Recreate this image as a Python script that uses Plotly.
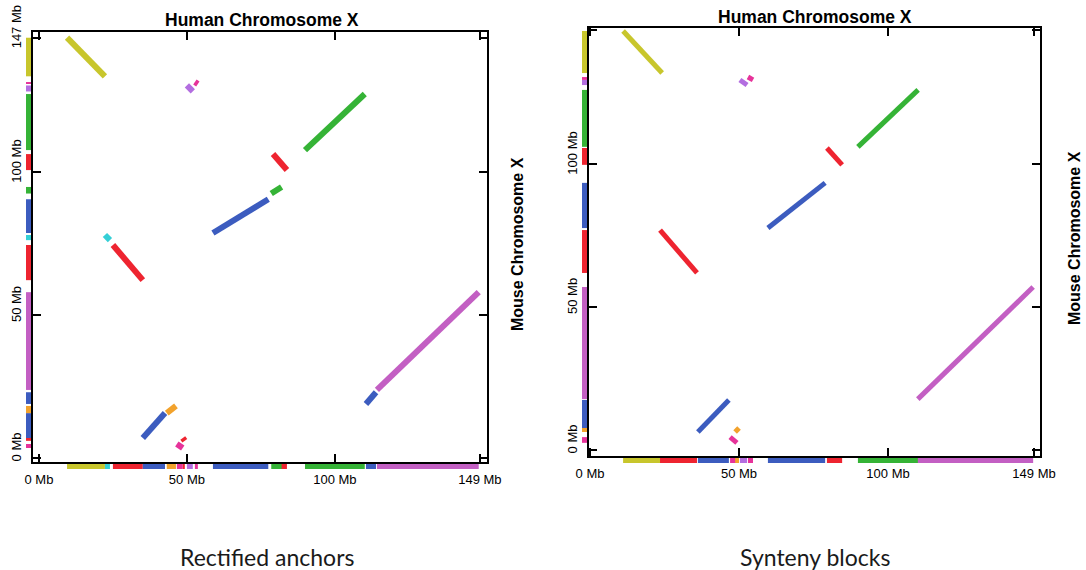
import plotly.graph_objects as go

# ---------------- data (Mb) ----------------
x_tick_vals = [0, 50, 100, 149]
x_tick_text = ["0 Mb", "50 Mb", "100 Mb", "149 Mb"]
y_tick_vals = [0, 50, 100, 147]
y_tick_text = ["0 Mb", "50 Mb", "100 Mb", "147 Mb"]

# Rectified anchors: human start/end, mouse start/end, segment group
anchor_h_start = [9.5, 50.0, 52.7, 89.9, 79.1, 58.8, 78.5, 22.3, 25.0, 110.5, 114.2, 35.1, 43.2, 46.6, 48.6]
anchor_h_end   = [22.3, 52.0, 53.7, 110.1, 83.8, 77.5, 82.0, 24.0, 35.1, 113.9, 148.6, 42.6, 46.3, 48.6, 49.3]
anchor_m_start = [147.0, 130.3, 131.5, 107.7, 106.3, 78.7, 92.5, 78.0, 74.5, 18.9, 23.8, 7.0, 15.7, 4.9, 7.0]
anchor_m_end   = [133.5, 128.2, 130.8, 127.3, 100.7, 90.5, 94.8, 76.2, 62.2, 23.0, 58.0, 15.7, 18.2, 3.5, 6.0]
anchor_group   = ["Y", "V", "P", "G", "R", "B", "G", "C", "R", "B", "M", "B", "O", "P", "R"]

# Synteny blocks
block_h_start = [11.1, 50.3, 53.0, 89.9, 79.5, 59.7, 23.5, 110.0, 36.2, 47.0, 48.7]
block_h_end   = [24.2, 52.7, 54.7, 110.1, 84.6, 78.9, 35.9, 148.7, 46.6, 49.3, 50.0]
block_m_start = [146.5, 129.4, 130.4, 106.0, 105.6, 77.6, 76.9, 17.8, 6.3, 4.5, 6.3]
block_m_end   = [131.8, 127.6, 129.4, 125.9, 99.7, 93.4, 61.9, 57.0, 17.5, 2.5, 7.7]
block_group   = ["Y", "V", "P", "G", "R", "B", "R", "M", "B", "P", "O"]

panel_titles = ["Human Chromosome X", "Human Chromosome X"]
side_titles = ["Mouse Chromosome X", "Mouse Chromosome X"]
captions = ["Rectified anchors", "Synteny blocks"]

# ---------------- styles ----------------
palette = {"Y": "#c8c62c", "V": "#b36ee0", "P": "#e6339a", "G": "#35b336",
           "R": "#ee2430", "B": "#3c5cbf", "C": "#34cfd6", "M": "#c35fc3",
           "O": "#f2a22c"}
W, H = 1086, 570
FONT = "Liberation Sans, Arial, sans-serif"


def px(v):
    return v / W


def py(v):
    return 1 - v / H


panels = [
    dict(hs=anchor_h_start, he=anchor_h_end, ms=anchor_m_start, me=anchor_m_end, g=anchor_group,
         frame=(33, 487, 32, 462), xr=[-2.0, 151.4], yr=[-1.4, 149.0],
         bstrip=(463, 470), lstrip=(25, 32), lw=6, title=(262, 20), side=(517, 244), cap=(267, 557)),
    dict(hs=block_h_start, he=block_h_end, ms=block_m_start, me=block_m_end, g=block_group,
         frame=(589, 1040, 28, 456), xr=[-0.34, 151.0], yr=[-2.1, 147.55],
         bstrip=(457, 464), lstrip=(581, 588), lw=5, title=(815, 17), side=(1075, 238), cap=(815, 557)),
]

fig = go.Figure()
layout = dict(width=W, height=H, margin=dict(l=0, r=0, t=0, b=0, pad=0, autoexpand=False),
              paper_bgcolor="white", plot_bgcolor="white", showlegend=False)
annotations = []

for i, p in enumerate(panels):
    n0 = 3 * i + 1
    main_x, main_y = n0, n0
    bx, by = n0 + 1, n0 + 1
    lx, ly = n0 + 2, n0 + 2

    def ax(n):
        return "x" if n == 1 else f"x{n}"

    def ay(n):
        return "y" if n == 1 else f"y{n}"

    def key(prefix, n):
        return prefix if n == 1 else f"{prefix}{n}"

    l, r, t, b = p["frame"]
    xdom = [px(l), px(r)]
    ydom = [py(b), py(t)]

    # main axes with frame and inside ticks
    layout[key("xaxis", main_x)] = dict(domain=xdom, range=p["xr"], anchor=ay(main_y), automargin=False,
                                        showgrid=False, zeroline=False, showline=True, mirror="allticks",
                                        linecolor="black", linewidth=2.2, ticks="inside", ticklen=8,
                                        tickwidth=1.5, tickcolor="black", tickvals=x_tick_vals,
                                        showticklabels=False)
    layout[key("yaxis", main_y)] = dict(domain=ydom, range=p["yr"], anchor=ax(main_x), automargin=False,
                                        showgrid=False, zeroline=False, showline=True, mirror="allticks",
                                        linecolor="black", linewidth=2.2, ticks="inside", ticklen=8,
                                        tickwidth=1.5, tickcolor="black", tickvals=y_tick_vals,
                                        showticklabels=False)
    # bottom strip (human positions)
    layout[key("xaxis", bx)] = dict(domain=xdom, matches=ax(main_x), anchor=ay(by), showgrid=False,
                                    automargin=False, zeroline=False, showline=False, ticks="",
                                    tickvals=x_tick_vals, ticktext=x_tick_text,
                                    tickfont=dict(family=FONT, size=13, color="black"))
    layout[key("yaxis", by)] = dict(domain=[py(p["bstrip"][1]), py(p["bstrip"][0])], range=[0, 1],
                                    anchor=ax(bx), visible=False, automargin=False)
    # left strip (mouse positions)
    layout[key("xaxis", lx)] = dict(domain=[px(p["lstrip"][0]), px(p["lstrip"][1])], range=[0, 1],
                                    anchor=ay(ly), visible=False, automargin=False)
    layout[key("yaxis", ly)] = dict(domain=ydom, matches=ay(main_y), anchor=ax(lx), showgrid=False,
                                    automargin=False, zeroline=False, showline=False, ticks="",
                                    tickvals=y_tick_vals, ticktext=y_tick_text, tickangle=-90,
                                    ticklabelposition="outside top",
                                    tickfont=dict(family=FONT, size=13, color="black"))

    for hs, he, ms, me, g in zip(p["hs"], p["he"], p["ms"], p["me"], p["g"]):
        c = palette[g]
        fig.add_trace(go.Scatter(x=[hs, he], y=[ms, me], mode="lines", xaxis=ax(main_x), yaxis=ay(main_y),
                                 line=dict(color=c, width=p["lw"]), hoverinfo="skip"))
        fig.add_trace(go.Scatter(x=[hs, he], y=[0.5, 0.5], mode="lines", xaxis=ax(bx), yaxis=ay(by),
                                 line=dict(color=c, width=5), hoverinfo="skip"))
        fig.add_trace(go.Scatter(x=[0.5, 0.5], y=[ms, me], mode="lines", xaxis=ax(lx), yaxis=ay(ly),
                                 line=dict(color=c, width=5), hoverinfo="skip"))

    tx, ty = p["title"]
    annotations.append(dict(text=f"<b>{panel_titles[i]}</b>", x=px(tx), y=py(ty), xref="paper", yref="paper",
                            xanchor="center", yanchor="middle", showarrow=False,
                            font=dict(family=FONT, size=17.5, color="black")))
    sx, sy = p["side"]
    annotations.append(dict(text=f"<b>{side_titles[i]}</b>", x=px(sx), y=py(sy), xref="paper", yref="paper",
                            xanchor="center", yanchor="middle", showarrow=False, textangle=-90,
                            font=dict(family=FONT, size=16, color="black")))
    cx, cy = p["cap"]
    annotations.append(dict(text=captions[i], x=px(cx), y=py(cy), xref="paper", yref="paper",
                            xanchor="center", yanchor="middle", showarrow=False,
                            font=dict(family="Lato, Noto Sans, sans-serif", size=23, color="#1a1a1a")))

layout["annotations"] = annotations
fig.update_layout(**layout)
fig.write_html("out.html", config={"displayModeBar": False},
               post_script="document.body.style.margin='0';document.body.style.overflow='hidden';")
